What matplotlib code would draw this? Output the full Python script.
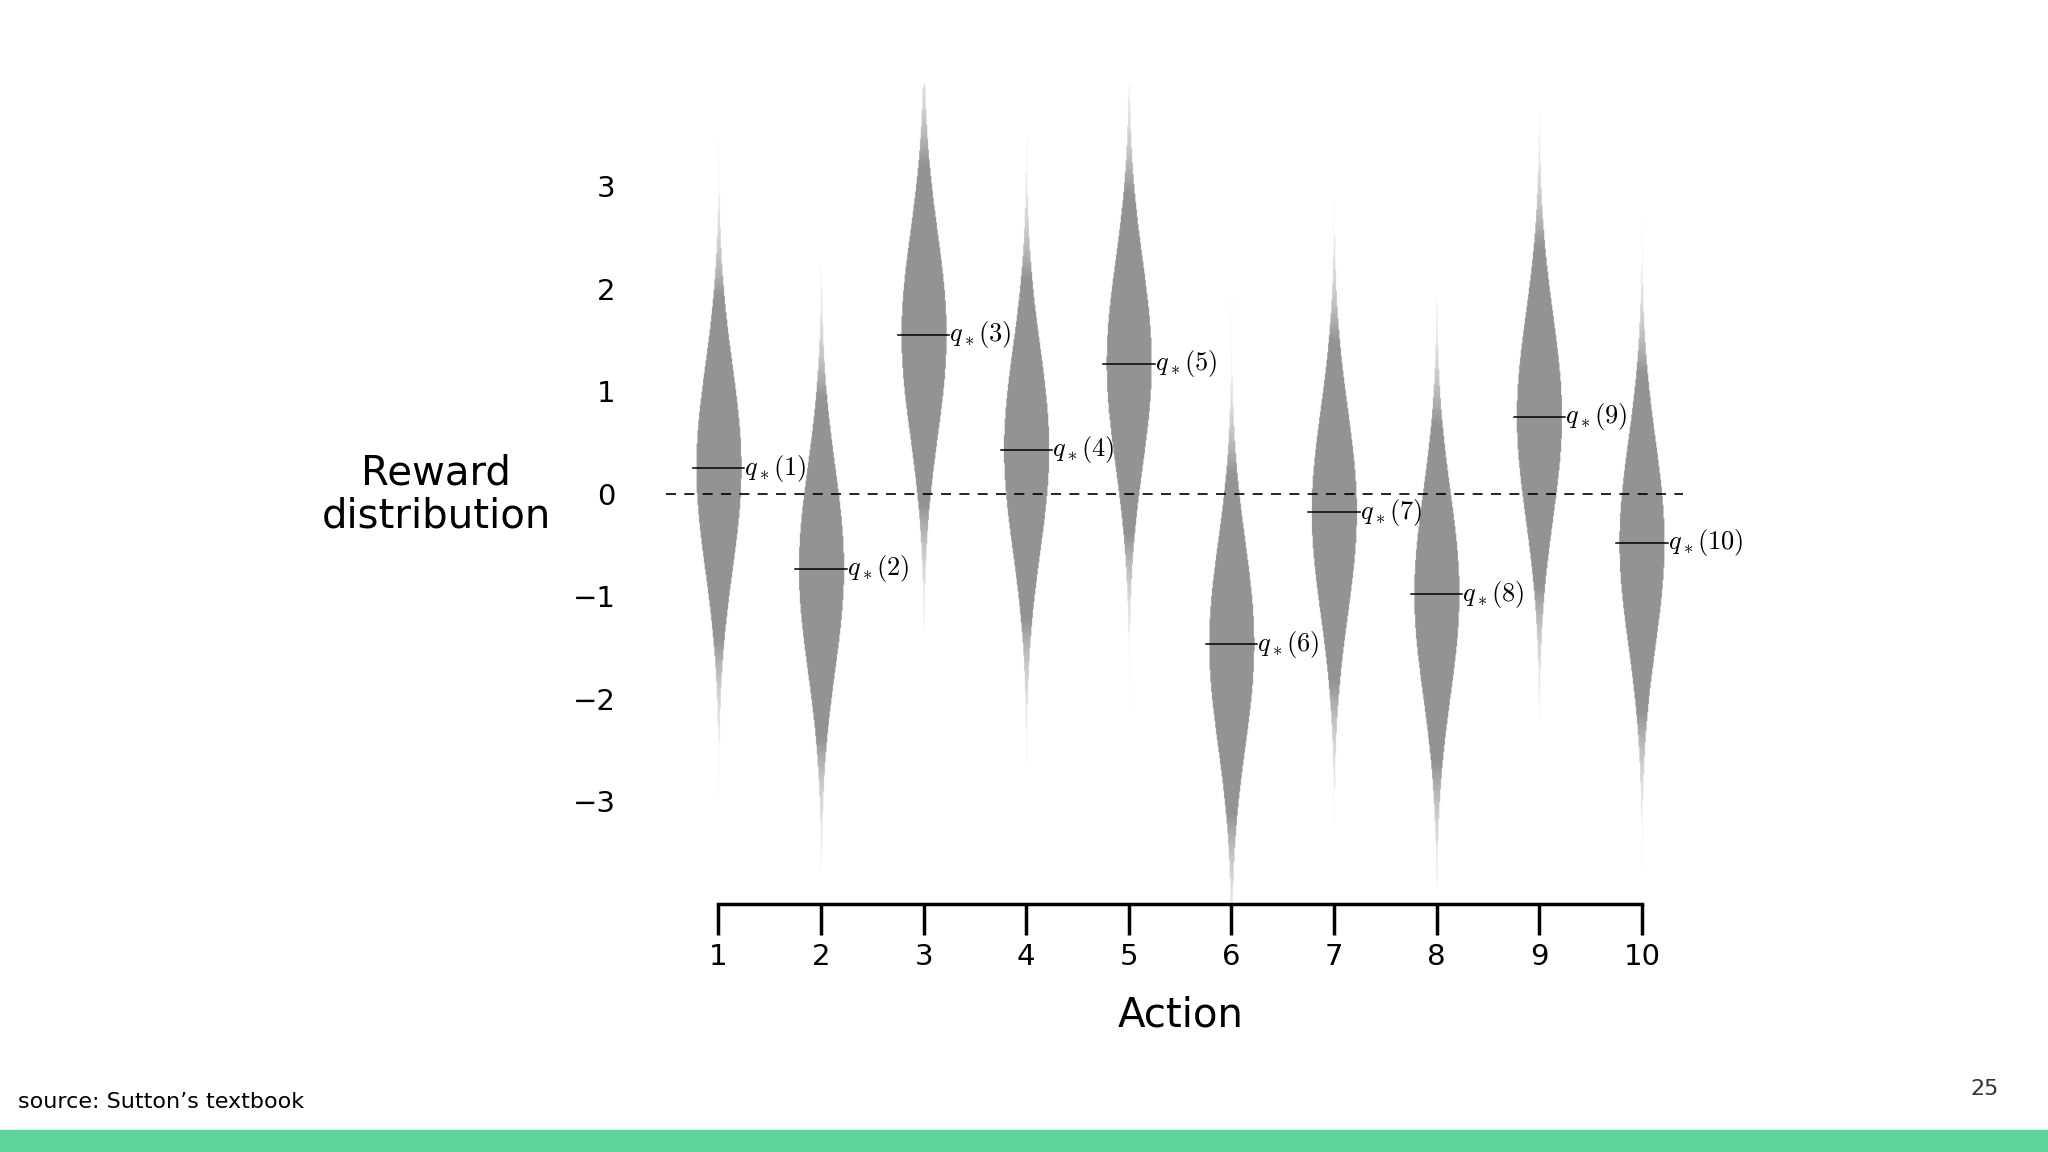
import numpy as np
import matplotlib
matplotlib.use("Agg")
import matplotlib.pyplot as plt

actions = [1, 2, 3, 4, 5, 6, 7, 8, 9, 10]
q_star = [0.25, -0.73, 1.55, 0.43, 1.27, -1.47, -0.18, -0.98, 0.75, -0.48]
y_ticks = [-3, -2, -1, 0, 1, 2, 3]

plt.rcParams['mathtext.fontset'] = 'cm'
fig = plt.figure(figsize=(20.48, 11.52), dpi=100)
ax = fig.add_axes([0.3007, 0.2154, 0.5511, 0.712])
ax.set_xlim(0, 11)
ax.set_ylim(-4, 4)

# violins drawn as an RGBA image so the tails fade out
nx, ny = 1400, 1000
xs = np.linspace(0, 11, nx)
ys = np.linspace(-4, 4, ny)
X, Y = np.meshgrid(xs, ys)
alpha = np.zeros_like(X)
half_w = 0.22
for a, q in zip(actions, q_star):
    d = np.exp(-0.5 * (Y - q) ** 2)
    inside = np.abs(X - a) <= half_w * d
    fade = np.clip(d / 0.25, 0, 1) ** 0.8
    alpha = np.maximum(alpha, inside * fade)
img = np.zeros((ny, nx, 4))
img[..., :3] = 0.58
img[..., 3] = alpha
ax.imshow(img, extent=[0, 11, -4, 4], origin='lower', aspect='auto', interpolation='bilinear', zorder=1)

ax.plot([0.49, 10.4], [0, 0], ls=(0, (6, 5)), color='black', lw=1.2, zorder=2)
for a, q in zip(actions, q_star):
    ax.plot([a - 0.25, a + 0.25], [q, q], color='black', lw=1.1, zorder=3)
    ax.text(a + 0.25, q, r'$q_*(%d)$' % a, fontsize=19, va='center', ha='left', zorder=4)

for s in ['top', 'right', 'left']:
    ax.spines[s].set_visible(False)
ax.spines['bottom'].set_bounds(1, 10)
ax.spines['bottom'].set_linewidth(2.5)
ax.set_xticks(actions)
ax.tick_params(axis='x', length=22, width=2.5, labelsize=21, pad=6)
ax.set_yticks(y_ticks)
ax.tick_params(axis='y', length=0, labelsize=21, pad=0)
ax.set_xlabel('Action', fontsize=29, labelpad=18)

fig.text(0.213, 0.57, 'Reward\ndistribution', fontsize=29, ha='center', va='center', linespacing=1.1)
fig.text(0.009, 0.043, 'source: Sutton\u2019s textbook', fontsize=16, ha='left', va='center')
fig.text(0.969, 0.055, '25', fontsize=16, ha='center', va='center', color='#333333')
fig.patches.append(plt.Rectangle((0, 0), 1, 0.0195, transform=fig.transFigure, color='#5fd49a', zorder=0))

fig.savefig('out.png', dpi=100)
